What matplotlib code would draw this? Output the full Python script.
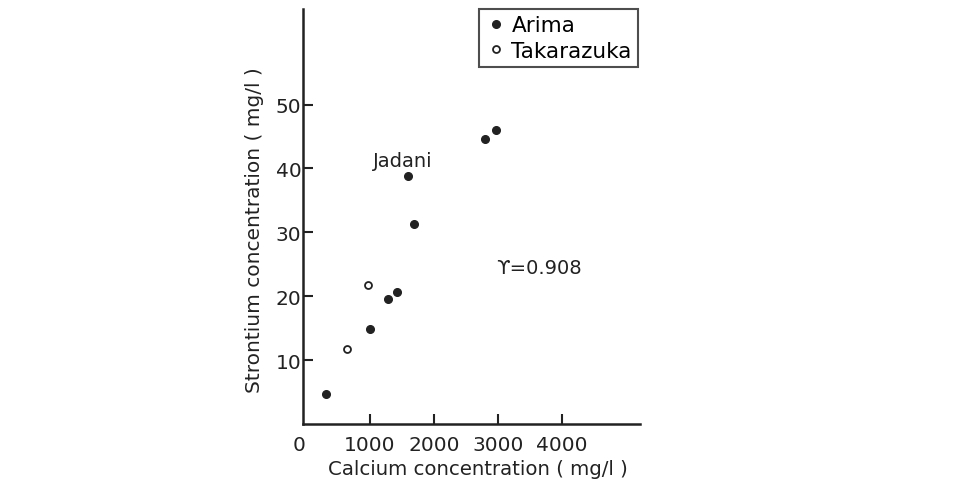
import numpy as np
import matplotlib.pyplot as plt

# values
arima_ca = [307, 1000, 1281, 1417, 1594, 1688, 2807, 2974]
arima_sr = [4.7, 14.8, 19.5, 20.7, 38.8, 31.3, 44.6, 46.0]
takarazuka_ca = [646, 964]
takarazuka_sr = [11.7, 21.8]

x_ticks = [0, 1000, 2000, 3000, 4000]
y_ticks = [10, 20, 30, 40, 50]
r_value = 0.908

fig = plt.figure(figsize=(9.55, 4.89), dpi=100)
ax = fig.add_axes([0.317, 0.131, 0.353, 0.849])

ax.plot(arima_ca, arima_sr, 'o', color='#222222', markersize=5.5, label='Arima')
ax.plot(takarazuka_ca, takarazuka_sr, 'o', markerfacecolor='white', markeredgecolor='#222222',
        markeredgewidth=1.3, markersize=5, label='Takarazuka')

ax.set_xlim(-50, 5220)
ax.set_ylim(0, 65)
ax.set_xticks(x_ticks)
ax.set_yticks(y_ticks)
ax.tick_params(direction='in', length=7, width=1.5, labelsize=14.5, color='#222222', labelcolor='#222222')
ax.tick_params(axis='x', pad=8)
ax.tick_params(axis='y', pad=1)
# the "0" sits a little left of the axis in the original
ax.xaxis.get_major_ticks()[0].label1.set_horizontalalignment('right')
ax.xaxis.get_major_ticks()[0].tick1line.set_visible(False)

for side in ['top', 'right']:
    ax.spines[side].set_visible(False)
for side in ['left', 'bottom']:
    ax.spines[side].set_linewidth(1.8)
    ax.spines[side].set_color('#222222')

ax.set_xlabel('Calcium concentration ( mg/l )', fontsize=14.2, color='#222222')
ax.set_ylabel('Strontium concentration ( mg/l )', fontsize=14.5, color='#222222')
ax.xaxis.set_label_coords(0.52, -0.085)
ax.yaxis.set_label_coords(-0.115, 0.47)

# label the Jadani spring
ax.annotate('Jadani', xy=(arima_ca[4], arima_sr[4]), xytext=(-4, 11), textcoords='offset points',
            ha='center', va='center', fontsize=14, color='#222222')

ax.text(0.575, 0.378, 'ϒ={:.3f}'.format(r_value), transform=ax.transAxes,
        fontsize=14, color='#222222', va='center')

leg = ax.legend(loc='upper right', bbox_to_anchor=(0.995, 1.0), fontsize=15.5, frameon=True,
                fancybox=False, handletextpad=0.2, handlelength=1.0, borderpad=0.3,
                labelspacing=0.25, borderaxespad=0.0)
leg.get_frame().set_edgecolor('#222222')
leg.get_frame().set_linewidth(1.5)

plt.savefig('out.png', dpi=100)
